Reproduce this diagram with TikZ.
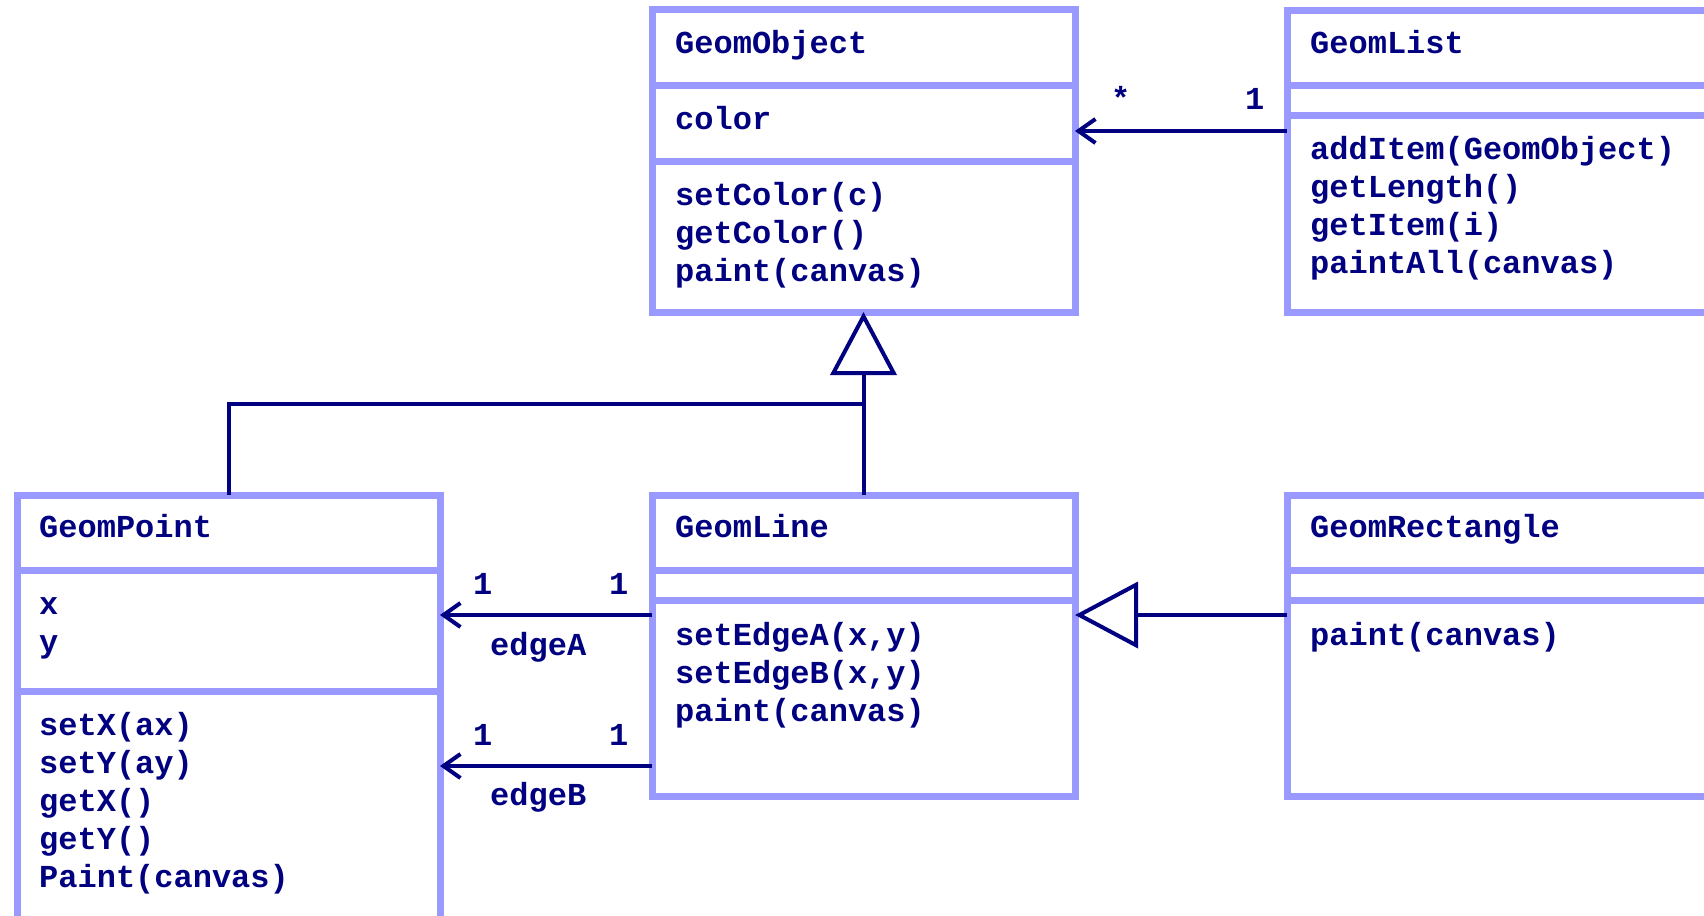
\documentclass[tikz,border=0pt]{standalone}
\usepackage{fontspec}
\setmainfont{Liberation Mono}
\usetikzlibrary{arrows.meta}
\definecolor{umlframe}{RGB}{153,153,255}
\definecolor{umlink}{RGB}{0,0,128}
\newcommand{\umlrows}[1]{\begin{tabular}[t]{@{}l@{}}#1\end{tabular}}
\tikzset{
  classbox/.style={draw=umlframe, line width=7pt, anchor=north west, outer sep=0pt, inner sep=0pt},
  divider/.style={draw=umlframe, line width=7pt},
  member/.style={anchor=base west, inner sep=0pt, text=umlink,
    font=\fontsize{32}{38}\selectfont\bfseries},
  assoc/.style={draw=umlink, line width=4pt, -{Straight Barb[length=17pt,width=24pt]}},
  generalize/.style={draw=umlink, line width=4pt, -{Triangle[open,length=63pt,width=66pt]}},
  link/.style={draw=umlink, line width=4pt},
}

\begin{document}
\begin{tikzpicture}[x=1pt, y=-1pt]
        \useasboundingbox (0,0) rectangle (1704,915);

        % Class frames
        \node[classbox, minimum width=423pt, minimum height=302pt] (obj) at (652,10) {};
        \node[classbox, minimum width=480pt, minimum height=301pt] (list) at (1287,11) {};
        \node[classbox, minimum width=423pt, minimum height=470pt] (point) at (17,495) {};
        \node[classbox, minimum width=423pt, minimum height=301pt] (line) at (652,495) {};
        \node[classbox, minimum width=480pt, minimum height=301pt] (rect) at (1287,495) {};

        % Compartments
        \draw[divider] (obj.west |- 0,85.5) -- (obj.east |- 0,85.5);
        \draw[divider] (obj.west |- 0,161.5) -- (obj.east |- 0,161.5);
        \draw[divider] (list.west |- 0,86) -- (list.east |- 0,86);
        \draw[divider] (list.west |- 0,116) -- (list.east |- 0,116);
        \draw[divider] (point.west |- 0,570) -- (point.east |- 0,570);
        \draw[divider] (point.west |- 0,691) -- (point.east |- 0,691);
        \draw[divider] (line.west |- 0,570) -- (line.east |- 0,570);
        \draw[divider] (line.west |- 0,600) -- (line.east |- 0,600);
        \draw[divider] (rect.west |- 0,570) -- (rect.east |- 0,570);
        \draw[divider] (rect.west |- 0,600) -- (rect.east |- 0,600);

        % Names, attributes and operations
        \node[member] (objname) at (675,54) {GeomObject};
        \node[member] (objattr) at (675,130) {color};
        \node[member] (objops) at (675,205) {\umlrows{setColor(c)\\getColor()\\paint(canvas)}};
        \node[member] (listname) at (1310,54) {GeomList};
        \node[member] (listops) at (1310,159) {\umlrows{addItem(GeomObject)\\getLength()\\getItem(i)\\paintAll(canvas)}};
        \node[member] (pointname) at (39,537) {GeomPoint};
        \node[member] (pointattr) at (39,614) {\umlrows{x\\y}};
        \node[member] (pointops) at (39,735) {\umlrows{setX(ax)\\setY(ay)\\getX()\\getY()\\Paint(canvas)}};
        \node[member] (linename) at (675,537) {GeomLine};
        \node[member] (lineops) at (675,645) {\umlrows{setEdgeA(x,y)\\setEdgeB(x,y)\\paint(canvas)}};
        \node[member] (rectname) at (1310,537) {GeomRectangle};
        \node[member] (rectops) at (1310,645) {paint(canvas)};

        % Associations
        \draw[assoc] (list.west |- 0,131) -- (obj.east |- 0,131);
        \draw[assoc] (line.west |- 0,615) -- (point.east |- 0,615);
        \draw[assoc] (line.west |- 0,766) -- (point.east |- 0,766);
        \node[member] (manyobj) at (1111,110) {*};
        \node[member] (onelist) at (1245,110) {1};
        \node[member] (onepa) at (473,594) {1};
        \node[member] (onela) at (609,594) {1};
        \node[member] (edgeA) at (490,655) {edgeA};
        \node[member] (onepb) at (473,745) {1};
        \node[member] (onelb) at (609,745) {1};
        \node[member] (edgeB) at (490,805) {edgeB};

        % Generalizations
        \coordinate (junc) at (obj.south |- 0,404);
        \draw[link] (point.north) |- (junc);
        \draw[generalize] (line.north) -- (obj.south);
        \draw[generalize] (rect.west |- 0,615) -- (line.east |- 0,615);
    \end{tikzpicture}
\end{document}
